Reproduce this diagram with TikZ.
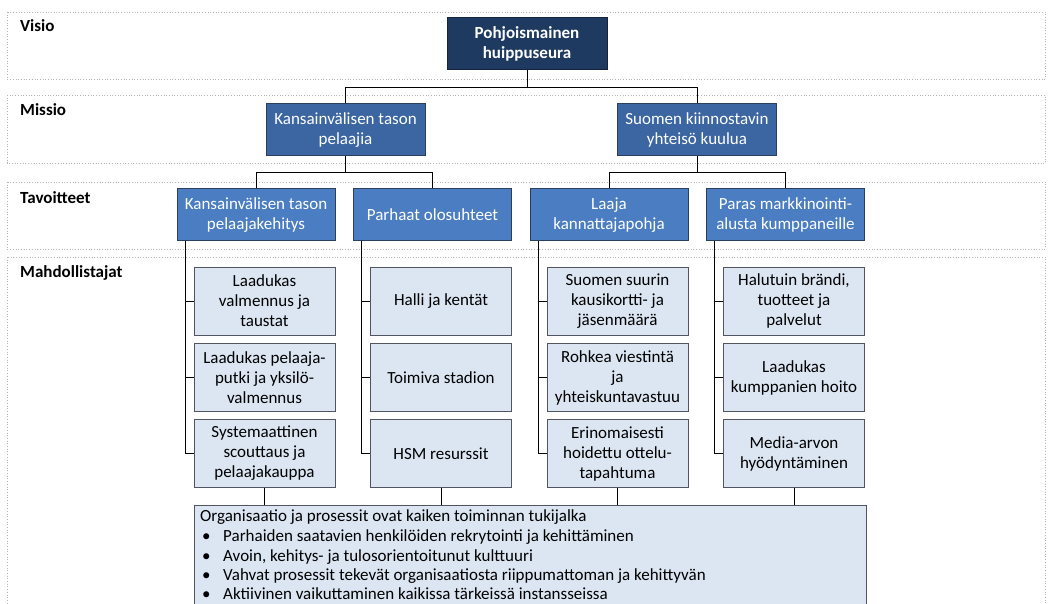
\documentclass[tikz,border=0pt]{standalone}
\usepackage{fontspec}
\setmainfont{Carlito}
\definecolor{navy}{HTML}{1F3A60}
\definecolor{navyline}{HTML}{14243C}
\definecolor{midblue}{HTML}{3C66A2}
\definecolor{goalblue}{HTML}{4A7DC1}
\definecolor{blueline}{HTML}{2A3F5E}
\definecolor{paleblue}{HTML}{DCE6F2}
\definecolor{boxline}{HTML}{505560}
\definecolor{bandline}{HTML}{B4B4B4}
\begin{document}
\begin{tikzpicture}[x=1pt,y=-1pt,
  txt/.style={font=\fontsize{17}{20}\selectfont},
  band/.style={draw=bandline,line width=0.7pt,dotted},
  bandlabel/.style={font=\fontsize{17}{20}\selectfont\bfseries,anchor=west,inner sep=0pt},
  visionbox/.style={font=\fontsize{17}{20}\selectfont\bfseries,draw=navyline,line width=1pt,fill=navy,text=white,align=center,minimum width=160pt,minimum height=52pt,inner sep=2pt},
  missionbox/.style={txt,draw=blueline,line width=1pt,fill=midblue,text=white,align=center,minimum width=159pt,minimum height=52pt,inner sep=2pt},
  goalbox/.style={txt,draw=blueline,line width=1pt,fill=goalblue,text=white,align=center,minimum width=158pt,minimum height=52pt,inner sep=2pt},
  enabler/.style={txt,draw=boxline,line width=0.9pt,fill=paleblue,text=black,align=center,minimum width=141pt,minimum height=68pt,inner sep=2pt},
  footline/.style={txt,anchor=base west,inner sep=0pt},
  conn/.style={draw=black,line width=0.9pt}
]
\useasboundingbox (0,0) rectangle (1050,604);
\fill[white] (0,0) rectangle (1050,604);
\clip (0,0) rectangle (1050,604);

% level bands
\draw[band] (7,12) rectangle (1045,79);
\draw[band] (7,95) rectangle (1045,163);
\draw[band] (7,182) rectangle (1045,249);
\draw[band] (7,257) rectangle (1045,640);

\node[bandlabel] (lv) at (20,26) {Visio};
\node[bandlabel] (lm) at (20,110) {Missio};
\node[bandlabel] (lt) at (20,198) {Tavoitteet};
\node[bandlabel] (lh) at (20,273) {Mahdollistajat};

% vision
\node[visionbox] (top) at (527,44) {Pohjoismainen\\huippuseura};

% missions
\node[missionbox] (m1) at (345.5,130) {Kansainvälisen tason\\pelaajia};
\node[missionbox] (m2) at (697,130) {Suomen kiinnostavin\\yhteisö kuulua};

% goals
\node[goalbox] (g1) at (256,215) {Kansainvälisen tason\\pelaajakehitys};
\node[goalbox] (g2) at (432.5,215) {Parhaat olosuhteet};
\node[goalbox] (g3) at (609,215) {Laaja\\kannattajapohja};
\node[goalbox] (g4) at (785.5,215) {Paras markkinointi-\\alusta kumppaneille};

% enablers
\node[enabler] (e11) at (264.5,301) {Laadukas\\valmennus ja\\taustat};
\node[enabler] (e12) at (264.5,377.5) {Laadukas pelaaja-\\putki ja yksilö-\\valmennus};
\node[enabler] (e13) at (264.5,453.5) {Systemaattinen\\scouttaus ja\\pelaajakauppa};

\node[enabler] (e21) at (441,301) {Halli ja kentät};
\node[enabler] (e22) at (441,377.5) {Toimiva stadion};
\node[enabler] (e23) at (441,453.5) {HSM resurssit};

\node[enabler] (e31) at (617.5,301) {Suomen suurin\\kausikortti- ja\\jäsenmäärä};
\node[enabler] (e32) at (617.5,377.5) {Rohkea viestintä\\ja\\yhteiskuntavastuu};
\node[enabler] (e33) at (617.5,453.5) {Erinomaisesti\\hoidettu ottelu-\\tapahtuma};

\node[enabler] (e41) at (794,301) {Halutuin brändi,\\tuotteet ja\\palvelut};
\node[enabler] (e42) at (794,377.5) {Laadukas\\kumppanien hoito};
\node[enabler] (e43) at (794,453.5) {Media-arvon\\hyödyntäminen};

% foundation box
\node[draw=boxline,line width=0.9pt,fill=paleblue,minimum width=672pt,minimum height=125pt,anchor=north west,inner sep=0pt] (bot) at (194,505) {};
\node[footline] (f0) at (200,521) {Organisaatio ja prosessit ovat kaiken toiminnan tukijalka};
\foreach \yy/\t [count=\i] in {541/Parhaiden saatavien henkilöiden rekrytointi ja kehittäminen,
                               561/{Avoin, kehitys- ja tulosorientoitunut kulttuuri},
                               580/Vahvat prosessit tekevät organisaatiosta riippumattoman ja kehittyvän,
                               599/Aktiivinen vaikuttaminen kaikissa tärkeissä instansseissa}{
  \node[footline] (b\i) at (202,\yy) {•};
  \node[footline] (f\i) at (223,\yy) {\t};
}

% connectors: vision -> missions -> goals
\draw[conn] (top.south) -- ++(0,17) -| (m1.north);
\draw[conn] (top.south) -- ++(0,17) -| (m2.north);
\draw[conn] (m1.south) -- ++(0,16) -| (g1.north);
\draw[conn] (m1.south) -- ++(0,16) -| (g2.north);
\draw[conn] (m2.south) -- ++(0,16) -| (g3.north);
\draw[conn] (m2.south) -- ++(0,16) -| (g4.north);

% connectors: goals -> enablers
\foreach \c in {1,2,3,4}{
  \draw[conn] ([xshift=8.5pt]g\c.south west) |- (e\c3.west);
  \draw[conn] (e\c1.west) -- ++(-8.5,0);
  \draw[conn] (e\c2.west) -- ++(-8.5,0);
  \draw[conn] (e\c3.south) -- (e\c3.south |- bot.north);
}
\end{tikzpicture}
\end{document}
